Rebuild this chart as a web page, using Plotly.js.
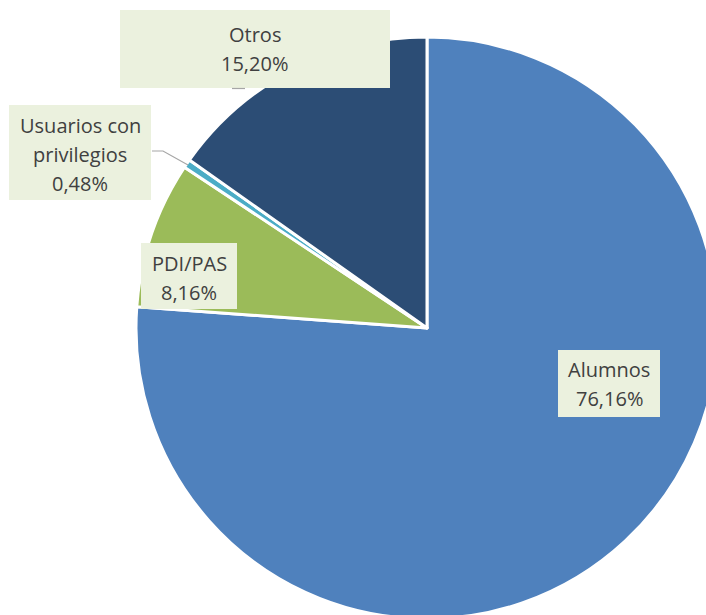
<!DOCTYPE html>
<html>
<head>
<meta charset="utf-8">
<script src="https://cdn.plot.ly/plotly-3.0.1.min.js"></script>
<style>
html, body { margin: 0; padding: 0; overflow: hidden; background: #fff; }
#chart { width: 740px; height: 660px; }
</style>
</head>
<body>
<div id="chart"></div>
<script>
// Data
const categories = ["Alumnos", "PDI/PAS", "Usuarios con<br>privilegios", "Otros"];
const values = [76.16, 8.16, 0.48, 15.20];
const colors = ["#4F81BD", "#9BBB59", "#4BACC6", "#2C4D75"];

// Label box placement (pixel coordinates on the page)
const boxes = [
  {x0: 558, x1: 660, y0: 350, y1: 417, cx: 609, firstY: 370},
  {x0: 141, x1: 237, y0: 243, y1: 309, cx: 189, firstY: 263},
  {x0: 9,   x1: 151, y0: 105, y1: 200, cx: 80,  firstY: 125},
  {x0: 120, x1: 390, y0: 10,  y1: 88,  cx: 255, firstY: 35}
];
const lineStep = 29;

const W = 740, H = 660;
const px = x => x / W;
const py = y => 1 - y / H;

const cx = 427, cy = 328, r = 291;

const fmt = v => v.toFixed(2).replace('.', ',') + '%';

const shapes = [];
const annotations = [];
categories.forEach((c, i) => {
  const b = boxes[i];
  shapes.push({
    type: 'rect', xref: 'paper', yref: 'paper',
    x0: px(b.x0), x1: px(b.x1), y0: py(b.y1), y1: py(b.y0),
    fillcolor: '#EBF1DE', line: {width: 0}, layer: 'above'
  });
  const lines = (c + '<br>' + fmt(values[i])).split('<br>');
  lines.forEach((t, k) => {
    annotations.push({
      xref: 'paper', yref: 'paper',
      x: px(b.cx), y: py(b.firstY + k * lineStep),
      xanchor: 'center', yanchor: 'middle',
      text: t, showarrow: false,
      font: {family: 'Open Sans, sans-serif', size: 20, color: '#404040'}
    });
  });
});

// leader lines
shapes.push({
  type: 'path', xref: 'paper', yref: 'paper',
  path: `M ${px(152)} ${py(151)} L ${px(163)} ${py(151)} L ${px(188)} ${py(165)}`,
  line: {color: '#A6A6A6', width: 1.2}, layer: 'above'
});
shapes.push({
  type: 'path', xref: 'paper', yref: 'paper',
  path: `M ${px(232)} ${py(88.5)} L ${px(245)} ${py(88.5)}`,
  line: {color: '#A6A6A6', width: 1.2}, layer: 'above'
});

const trace = {
  type: 'pie',
  labels: categories,
  values: values,
  sort: false,
  direction: 'clockwise',
  rotation: 0,
  textinfo: 'none',
  hoverinfo: 'none',
  marker: {colors: colors, line: {color: '#FFFFFF', width: 3}},
  domain: {x: [px(cx - r), px(cx + r)], y: [py(cy + r), py(cy - r)]},
  showlegend: false
};

Plotly.newPlot('chart', [trace], {
  width: W, height: H,
  margin: {l: 0, r: 0, t: 0, b: 0},
  paper_bgcolor: '#FFFFFF',
  showlegend: false,
  shapes: shapes,
  annotations: annotations
}, {displayModeBar: false, staticPlot: true});
</script>
</body>
</html>
